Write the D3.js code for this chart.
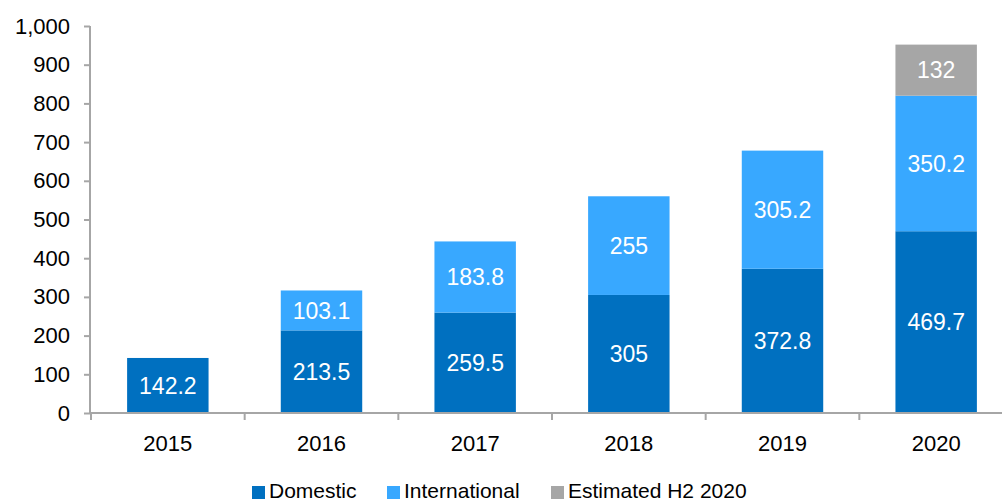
<!DOCTYPE html>
<html><head><meta charset="utf-8">
<script src="https://cdn.jsdelivr.net/npm/d3@7"></script>
<style>body{margin:0;background:#fff;}svg{display:block;font-family:"Liberation Sans",Arial,sans-serif;}</style>
</head><body><svg id="c" width="1002" height="504"></svg>
<script>
const categories = ["2015","2016","2017","2018","2019","2020"];
const domestic = [142.2,213.5,259.5,305,372.8,469.7];
const international = [0,103.1,183.8,255,305.2,350.2];
const estimated = [0,0,0,0,0,132];
const seriesNames = ["Domestic","International","Estimated H2 2020"];
const yTicks = [0,100,200,300,400,500,600,700,800,900,1000];
const colors = ["#0070C0","#38A8FF","#A6A6A6"];
const seriesValues = [domestic, international, estimated];

const svg = d3.select("#c");
const x = d3.scaleBand().domain(categories).range([91, 1013]).paddingInner(0.47).paddingOuter(0.235);
const y = d3.scaleLinear().domain([0,1000]).range([413, 26]);
const axisColor = "#A6A6A6";

const rows = categories.map((c,i)=>({cat:c, idx:i, Domestic:domestic[i], International:international[i], "Estimated H2 2020":estimated[i]}));
const stack = d3.stack().keys(seriesNames)(rows);

const g = svg.append("g");
stack.forEach((s,si)=>{
  const vis = s.filter(d=>seriesValues[si][d.data.idx]>0);
  g.selectAll(null).data(vis).join("rect")
    .attr("x", d=>x(d.data.cat)).attr("width", x.bandwidth())
    .attr("y", d=>y(d[1])).attr("height", d=>y(d[0])-y(d[1]))
    .attr("fill", colors[si]);
  g.selectAll(null).data(vis).join("text")
    .attr("x", d=>x(d.data.cat)+x.bandwidth()/2)
    .attr("y", d=>(y(d[0])+y(d[1]))/2)
    .attr("dy","0.36em").attr("text-anchor","middle")
    .attr("fill","#fff").attr("font-size","23px")
    .text(d=>seriesValues[si][d.data.idx]);
});

// y axis
const ya = svg.append("g").attr("transform","translate(90,0)")
  .call(d3.axisLeft(y).tickValues(yTicks).tickSize(6).tickPadding(14).tickFormat(d3.format(",")));
ya.select(".domain").attr("stroke",axisColor).attr("stroke-width",2).attr("d","M0,413V26");
ya.selectAll(".tick line").attr("stroke",axisColor).attr("stroke-width",2);
ya.selectAll(".tick text").attr("font-size","22px").attr("fill","#000").attr("font-family","Liberation Sans, Arial, sans-serif");

// x axis
const xa = svg.append("g").attr("transform","translate(0,413)")
  .call(d3.axisBottom(x).tickSize(0).tickPadding(22));
xa.select(".domain").attr("stroke",axisColor).attr("stroke-width",2).attr("d","M90,0H1013");
xa.selectAll(".tick text").attr("font-size","22px").attr("fill","#000").attr("font-family","Liberation Sans, Arial, sans-serif");
const bounds = d3.range(categories.length+1).map(i=>91 + i*(1013-91)/categories.length);
svg.append("g").selectAll("line").data(bounds).join("line")
  .attr("x1",d=>d).attr("x2",d=>d).attr("y1",413).attr("y2",420)
  .attr("stroke",axisColor).attr("stroke-width",2);

// legend
const legX = [252, 387, 551];
const lg = svg.append("g");
seriesNames.forEach((n,i)=>{
  lg.append("rect").attr("x",legX[i]).attr("y",486).attr("width",13).attr("height",13).attr("fill",colors[i]);
  lg.append("text").attr("x",legX[i]+17).attr("y",498).attr("font-size","21px").attr("fill","#000").text(n);
});
</script></body></html>
